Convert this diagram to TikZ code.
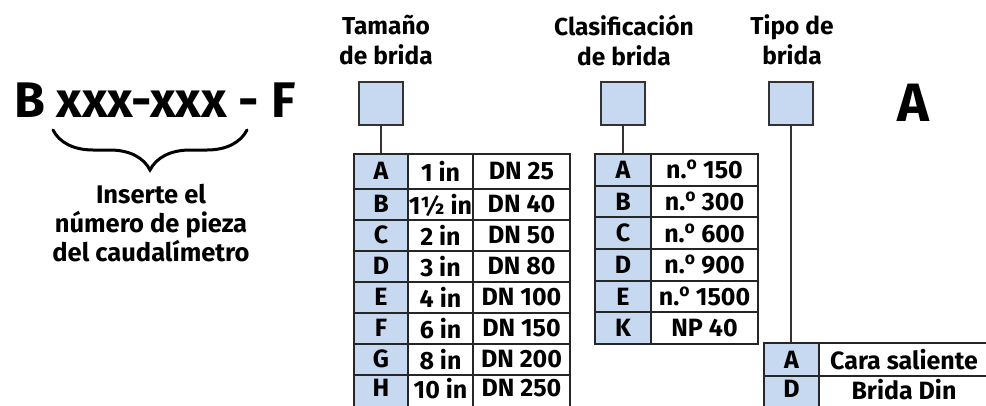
\documentclass[tikz,border=0pt]{standalone}
\usepackage{fontspec}
\setmainfont{Fira Sans}
\usepackage{tikz}
\usetikzlibrary{decorations.pathreplacing}
\definecolor{cellblue}{RGB}{198,217,240}
\definecolor{boxgray}{RGB}{51,51,51}
\newcommand{\nro}{n.\textsuperscript{o}}

\begin{document}
\begin{tikzpicture}[x=1pt, y=-1pt, line width=2pt,
    head/.style={align=center, font=\bfseries\fontsize{24.5}{30}\selectfont},
    pick/.style={draw=boxgray, fill=cellblue, minimum width=44pt, minimum height=43pt, inner sep=0pt},
    cell/.style={draw=black!85, inner sep=0pt, anchor=north west, font=\bfseries\fontsize{25}{25}\selectfont},
    key/.style={cell, fill=cellblue},
    val/.style={cell, fill=white}]
    \useasboundingbox (0, 0) rectangle (986, 405);

    % draw part number and brace
    \node[anchor=base west, inner sep=0pt, font=\bfseries\fontsize{50}{50}\selectfont] (code) at (13, 117) {B xxx-xxx - F};
    \coordinate (braceL) at (53, 130);
    \coordinate (braceR) at (247, 130);
    \draw[decorate, decoration={brace, mirror, amplitude=40pt}, line width=3pt, line cap=round] (braceL) -- (braceR);
    \node[head, font=\bfseries\fontsize{25.5}{29}\selectfont] (partnote) at (151, 223) {Inserte el\\número de pieza\\del caudalímetro};

    % draw headings and boxes
    \node[head] (sizehead) at (386, 40) {Tamaño\\de brida};
    \node[head] (classhead) at (624, 40) {Clasificación\\de brida};
    \node[head] (typehead) at (792, 40) {Tipo de\\brida};
    \node[pick] (sizebox) at (381, 103.5) {};
    \node[pick] (classbox) at (622.5, 103.5) {};
    \node[pick] (typebox) at (791, 103.5) {};
    \node[anchor=base, inner sep=0pt, font=\bfseries\fontsize{54}{54}\selectfont] (suffix) at (913, 121) {A};

    % draw size table
    \foreach \l/\a/\b [count=\i from 0] in {A/1 in/DN 25, B/1½ in/DN 40, C/2 in/DN 50, D/3 in/DN 80,
        E/4 in/DN 100, F/6 in/DN 150, G/8 in/DN 200, H/10 in/DN 250} {
      \pgfmathsetmacro{\t}{\i==0 ? 153 : 156.5+31*\i}
      \pgfmathsetmacro{\h}{\i==0 ? 34.5 : (\i==7 ? 32 : 31)}
      \pgfmathsetmacro{\d}{\i==7 ? 5 : 0}
      \node[key, minimum width=54pt, minimum height=\h pt, text depth=\d pt] (size-\l-key) at (353, \t) {\l};
      \node[val, minimum width=65pt, minimum height=\h pt, text depth=\d pt] (size-\l-inch) at (407, \t) {\a};
      \node[val, minimum width=97pt, minimum height=\h pt, text depth=\d pt] (size-\l-dn) at (472, \t) {\b};
    }

    % draw class table
    \foreach \l/\a [count=\i from 0] in {A/\nro\ 150, B/\nro\ 300, C/\nro\ 600, D/\nro\ 900, E/\nro\ 1500, K/NP 40} {
      \pgfmathsetmacro{\t}{153+31.67*\i}
      \node[key, minimum width=56pt, minimum height=31.67pt] (class-\l-key) at (594, \t) {\l};
      \node[val, minimum width=107pt, minimum height=31.67pt] (class-\l-val) at (650, \t) {\a};
    }

    % draw type table
    \foreach \l/\a [count=\i from 0] in {A/Cara saliente, D/Brida Din} {
      \pgfmathsetmacro{\t}{342+33*\i}
      \pgfmathsetmacro{\h}{\i==0 ? 33 : 31}
      \pgfmathsetmacro{\d}{\i==0 ? 0 : 5}
      \node[key, minimum width=55pt, minimum height=\h pt, text depth=\d pt] (type-\l-key) at (763, \t) {\l};
      \node[val, minimum width=170pt, minimum height=\h pt, text depth=\d pt] (type-\l-val) at (818, \t) {\a};
    }

    % draw box connectors
    \draw[color=boxgray] (sizebox.south) -- (sizebox.south |- size-A-key.north);
    \draw[color=boxgray] (classbox.south) -- (classbox.south |- class-A-key.north);
    \draw[color=boxgray] (typebox.south) -- (typebox.south |- type-A-key.north);
\end{tikzpicture}
\end{document}
